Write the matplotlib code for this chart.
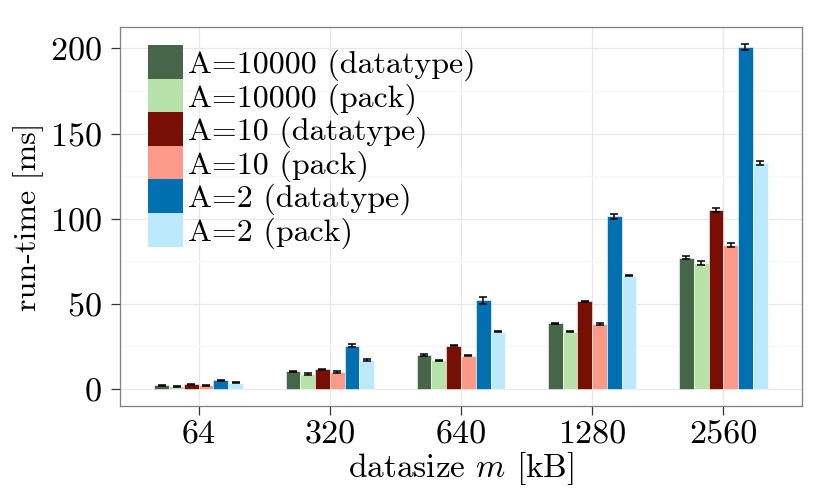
import numpy as np
import matplotlib
matplotlib.use('Agg')
import matplotlib.pyplot as plt
from matplotlib.patches import Patch, Rectangle
from matplotlib.legend_handler import HandlerPatch

plt.rcParams['font.family'] = ['cmr10', 'DejaVu Serif']
plt.rcParams['mathtext.fontset'] = 'cm'
plt.rcParams['axes.unicode_minus'] = False
plt.rcParams['axes.formatter.use_mathtext'] = True

# data
sizes = ['64', '320', '640', '1280', '2560']
series = ['A=10000 (datatype)', 'A=10000 (pack)', 'A=10 (datatype)',
          'A=10 (pack)', 'A=2 (datatype)', 'A=2 (pack)']
a10000_dt = [2.0, 10.2, 19.9, 38.5, 77.0]
a10000_pk = [1.4, 8.6, 16.8, 33.6, 74.0]
a10_dt = [2.8, 11.5, 25.4, 51.4, 105.0]
a10_pk = [2.2, 9.8, 19.5, 38.1, 84.5]
a2_dt = [5.1, 25.4, 52.0, 101.5, 200.8]
a2_pk = [3.7, 17.0, 33.6, 66.5, 132.7]
a10000_dt_err = [0.3, 0.4, 0.5, 0.4, 0.8]
a10000_pk_err = [0.3, 0.4, 0.4, 0.4, 1.0]
a10_dt_err = [0.3, 0.4, 0.4, 0.4, 1.0]
a10_pk_err = [0.3, 0.4, 0.4, 0.4, 1.0]
a2_dt_err = [0.3, 0.8, 2.2, 1.5, 1.6]
a2_pk_err = [0.3, 0.4, 0.4, 0.4, 1.0]

values = [a10000_dt, a10000_pk, a10_dt, a10_pk, a2_dt, a2_pk]
errors = [a10000_dt_err, a10000_pk_err, a10_dt_err, a10_pk_err, a2_dt_err, a2_pk_err]
colors = ['#476548', '#b7e3ab', '#770f05', '#fb9a88', '#0070b0', '#bde9fd']

fig = plt.figure(figsize=(8.3, 4.98), dpi=100)
W, H = 830, 498
ax = fig.add_axes([120 / W, (H - 406) / H, 682 / W, 379 / H])

x = np.arange(1, len(sizes) + 1)
bw = 0.1125
for i, (vals, errs, c) in enumerate(zip(values, errors, colors)):
    pos = x + (i - 2.5) * bw
    ax.bar(pos, vals, width=bw, color=c, edgecolor='white', linewidth=0.4, zorder=3)
    ax.errorbar(pos, vals, yerr=errs, fmt='none', ecolor='black', elinewidth=1.1,
                capsize=3.1, capthick=1.1, zorder=4)

ax.set_xlim(0.4, 5.6)
ax.set_ylim(-10.1, 212.6)
ax.set_xticks(x)
ax.set_xticklabels(sizes)
ax.set_yticks([0, 50, 100, 150, 200])
ax.set_yticks([25, 75, 125, 175], minor=True)
ax.grid(True, which='major', color='#e8e8e8', linewidth=0.9, zorder=0)
ax.grid(True, which='minor', axis='y', color='#f7f7f7', linewidth=0.9, zorder=0)
ax.set_axisbelow(True)
for sp in ax.spines.values():
    sp.set_color('#7f7f7f')
    sp.set_linewidth(0.9)
ax.tick_params(axis='both', which='major', length=6.5, width=0.9, color='#333333',
               labelsize=24.5)
ax.tick_params(axis='y', which='major', pad=7)
ax.tick_params(axis='x', which='major', pad=4)
ax.tick_params(axis='y', which='minor', length=0)

ax.set_xlabel('datasize $m$ [kB]', fontsize=24, labelpad=0)
ax.set_ylabel('run-time [ms]', fontsize=23, labelpad=4)


# legend keys a bit taller than the handle box so they touch like ggplot keys
def tall_key(legend, orig_handle, xdescent, ydescent, width, height, fontsize):
    return Rectangle((-xdescent, -ydescent - 1.8), width, height + 3.6)


handles = [Patch(facecolor=c, edgecolor='none') for c in colors]
leg = ax.legend(handles, series, loc='upper left',
                bbox_to_anchor=(148 / W, (H - 48) / H), bbox_transform=fig.transFigure,
                frameon=False, fontsize=23, borderpad=0, borderaxespad=0,
                handlelength=1.1, handleheight=1.0, labelspacing=0.0, handletextpad=0.16,
                handler_map={Patch: HandlerPatch(patch_func=tall_key)})

fig.savefig('out.png', dpi=100)
